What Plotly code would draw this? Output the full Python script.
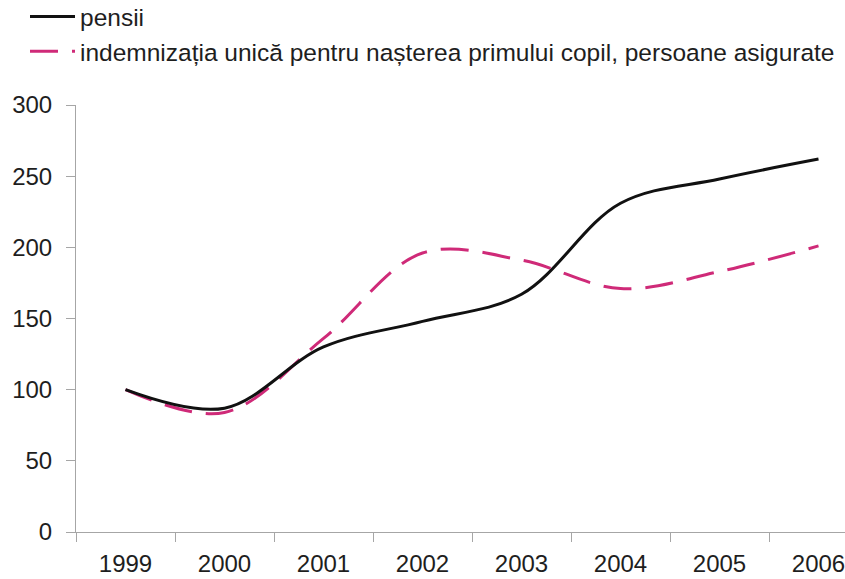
import plotly.graph_objects as go

# Index values (1999 = 100)
years = ["1999", "2000", "2001", "2002", "2003", "2004", "2005", "2006"]
pensii = [100, 87, 130, 148, 167, 231, 248, 262]
indemnizatia = [100, 84, 136, 196, 191, 171, 183, 201]

name_pensii = "pensii"
name_indemn = "indemnizația unică pentru nașterea primului copil, persoane asigurate"

W, H = 845, 579
MARGIN = dict(l=76, r=0, t=105, b=47)
PLOT_W = W - MARGIN["l"] - MARGIN["r"]
PLOT_H = H - MARGIN["t"] - MARGIN["b"]
FONT = "Liberation Sans, Arial, sans-serif"
AXIS_GRAY = "#a6a6a6"

fig = go.Figure()

# dashed series drawn first so the solid line sits on top
fig.add_trace(go.Scatter(
    x=years, y=indemnizatia, name=name_indemn, mode="lines",
    line=dict(color="#cf2a78", width=3, dash="28px,14px", shape="spline", smoothing=1.0),
))
fig.add_trace(go.Scatter(
    x=years, y=pensii, name=name_pensii, mode="lines",
    line=dict(color="#111111", width=3, shape="spline", smoothing=1.0),
))

fig.update_layout(
    width=W, height=H,
    margin=dict(**MARGIN, autoexpand=False),
    paper_bgcolor="white", plot_bgcolor="white",
    font=dict(family=FONT, size=24, color="#1e1e1e"),
    showlegend=True,
    legend=dict(
        xref="paper", yref="paper",
        x=(25 - MARGIN["l"]) / PLOT_W, y=1 + (MARGIN["t"] + 6) / PLOT_H,
        xanchor="left", yanchor="top",
        traceorder="reversed", itemwidth=45,
        font=dict(family=FONT, size=24.5, color="#1e1e1e"),
        bgcolor="rgba(0,0,0,0)", tracegroupgap=0,
    ),
    xaxis=dict(
        type="category", range=[-0.5, (W - 125.5) / 99],
        tickson="boundaries", ticks="outside", ticklen=9, tickcolor=AXIS_GRAY,
        showline=True, linecolor=AXIS_GRAY, linewidth=1,
        showgrid=False, zeroline=False, ticklabelstandoff=10,
    ),
    yaxis=dict(
        range=[0, 300], tickvals=[0, 50, 100, 150, 200, 250, 300],
        ticks="outside", ticklen=9, tickcolor=AXIS_GRAY,
        showline=True, linecolor=AXIS_GRAY, linewidth=1,
        showgrid=False, zeroline=False, ticklabelstandoff=9,
    ),
)

fig.write_html("out.html")
